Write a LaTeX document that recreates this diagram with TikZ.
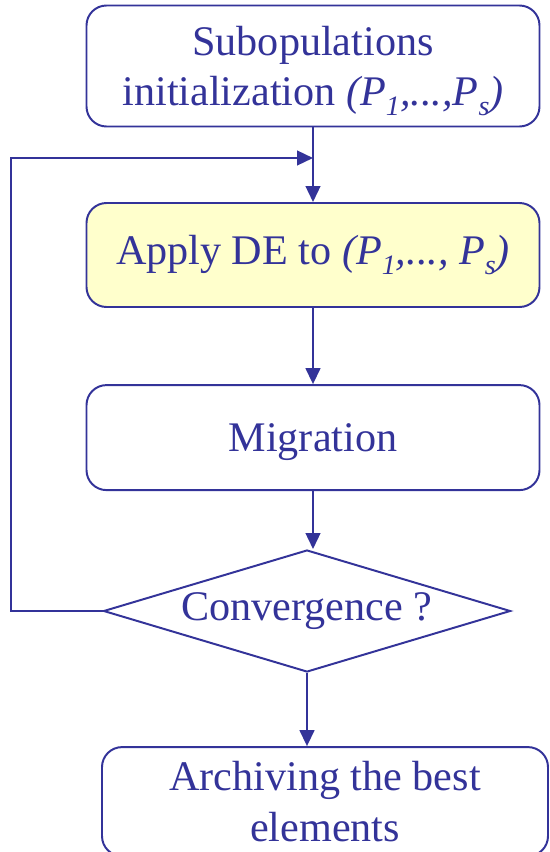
\documentclass[tikz,border=0pt]{standalone}
\usepackage{fontspec}
\setmainfont{Liberation Serif}
\usepackage{xcolor}
\definecolor{FlowBlue}{RGB}{51,51,153}
\definecolor{StepFill}{RGB}{255,255,204}
\usetikzlibrary{arrows.meta, shapes.geometric, positioning}
% low index for the population names
\newcommand{\popidx}[1]{\raisebox{-0.5ex}{\fontsize{20}{20}\selectfont #1}}

\begin{document}
\begin{tikzpicture}[
        stepbox/.style={draw=FlowBlue, line width=1.4pt, rounded corners=0.5cm, text=FlowBlue, minimum width=11.325cm, align=center, font=\fontsize{30}{36}\selectfont},
        test/.style={draw=FlowBlue, line width=1.4pt, diamond, aspect=3.34, inner sep=0pt, text=FlowBlue, minimum width=10.175cm, minimum height=3.05cm, font=\fontsize{30}{36}\selectfont},
        arrow/.style={-{Triangle[length=0.4cm, width=0.37cm]}, line width=1.4pt, FlowBlue}
    ]
        \useasboundingbox (0,0) rectangle (13.725,-21.3);

        \node[stepbox, minimum height=3.025cm, text depth=0pt] (init) at (7.825,-1.65) {Subopulations\\initialization \textit{(P\popidx{1},...,P\popidx{s})}};
        \node[stepbox, fill=StepFill, minimum height=2.6cm] (apply) at (7.825,-6.375) {Apply DE to \textit{(P\popidx{1},..., P\popidx{s})}};
        \node[stepbox, minimum height=2.625cm, text depth=0pt] (migr) at (7.825,-10.94) {Migration};
        \node[test] (conv) at (7.675,-15.275) {Convergence ?};
        \node[stepbox, minimum width=11.15cm, minimum height=2.725cm] (arch) at (8.125,-20.04) {Archiving the best\\elements};

        % loop back joins the main line here
        \coordinate (merge) at (7.825,-3.95);

        \draw[arrow] (init) -- (apply);
        \draw[arrow] (apply) -- (migr);
        \draw[arrow] (migr.south) -- (migr.south |- conv.north);
        \draw[arrow] (conv.south) -- (conv.south |- arch.north);
        \draw[arrow] (conv.west) -- ++(-2.29,0) |- (merge);

    \end{tikzpicture}
\end{document}
